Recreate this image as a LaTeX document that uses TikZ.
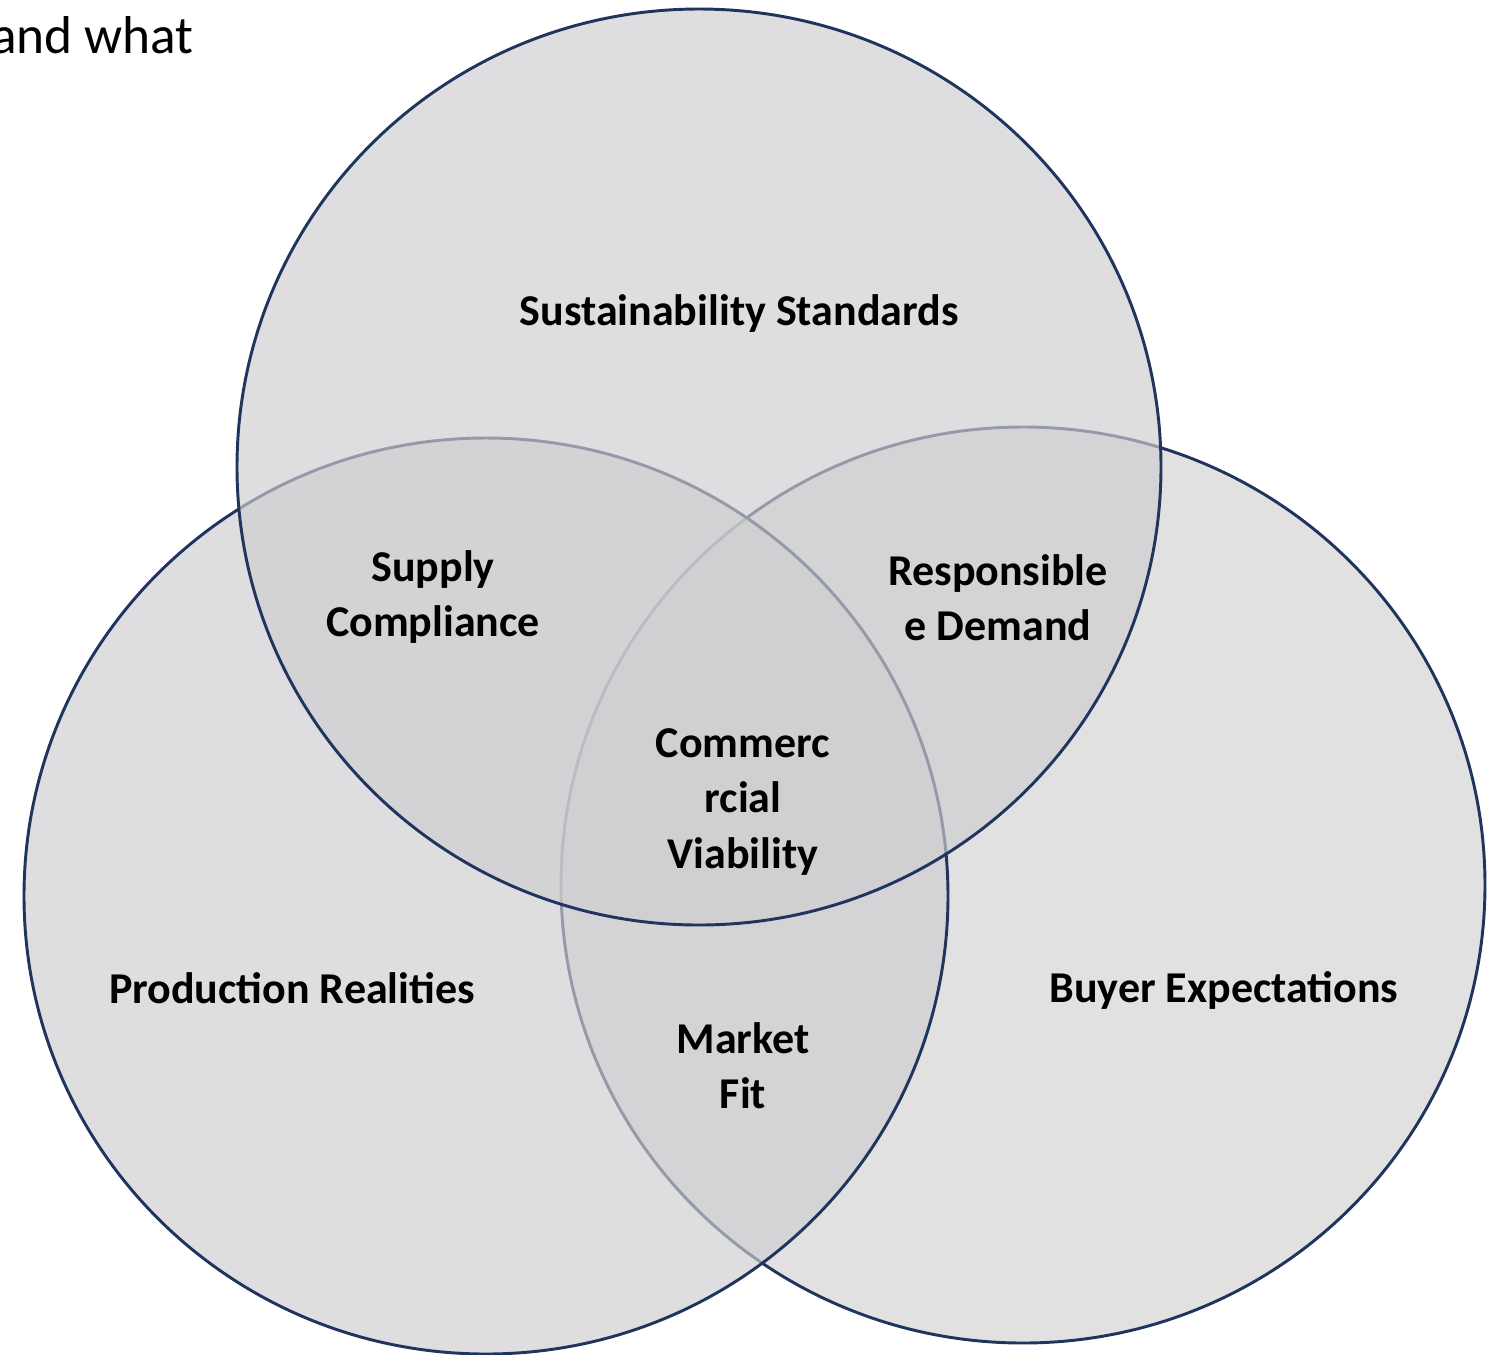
\documentclass[tikz,border=0pt]{standalone}
\usepackage{fontspec}
\setmainfont{Carlito}
\usetikzlibrary{backgrounds}
\definecolor{vennline}{RGB}{31,53,94}
\definecolor{vennfill}{RGB}{206,205,207}
\definecolor{vennfillb}{RGB}{210,210,210}
\tikzset{venn/.style={draw=vennline,line width=2.2pt,fill opacity=0.667},
  lbl/.style={font=\fontsize{33}{41.5}\selectfont\bfseries,align=center,inner sep=0pt}}

\begin{document}
\begin{tikzpicture}[x=0.75pt,y=0.75pt,yscale=-1,xscale=1]
\useasboundingbox (0,0) rectangle (1500,1354);
\fill[white] (0,0) rectangle (1500,1354);

%Shape: Circle [buyer]
\draw[venn,fill=vennfillb] (1023,885) ellipse [x radius=462,y radius=458];
%Shape: Circle [production]
\draw[venn,fill=vennfill] (486,896) ellipse [x radius=462,y radius=458];
%Shape: Circle [sustainability]
\draw[venn,fill=vennfill] (699,467) ellipse [x radius=462,y radius=458];

% Text Node
\node[anchor=base east,inner sep=0pt,font=\fontsize{40}{48}\selectfont] (andwhat) at (194,53) {and what};
% Text Node
\node[lbl] (sust) at (739,314) {Sustainability Standards};
% Text Node
\node[lbl] (supply) at (433,597) {Supply\\Compliance};
% Text Node
\node[lbl] (resp) at (998,598) {Responsible\\e Demand};
% Text Node
\node[lbl] (comm) at (743,802) {Commerc\\rcial\\Viability};
% Text Node
\node[lbl] (prod) at (292,988) {Production Realities};
% Text Node
\node[lbl] (buyer) at (1224,990) {Buyer Expectations};
% Text Node
\node[lbl] (market) at (743,1066) {Market\\Fit};

\end{tikzpicture}
\end{document}
